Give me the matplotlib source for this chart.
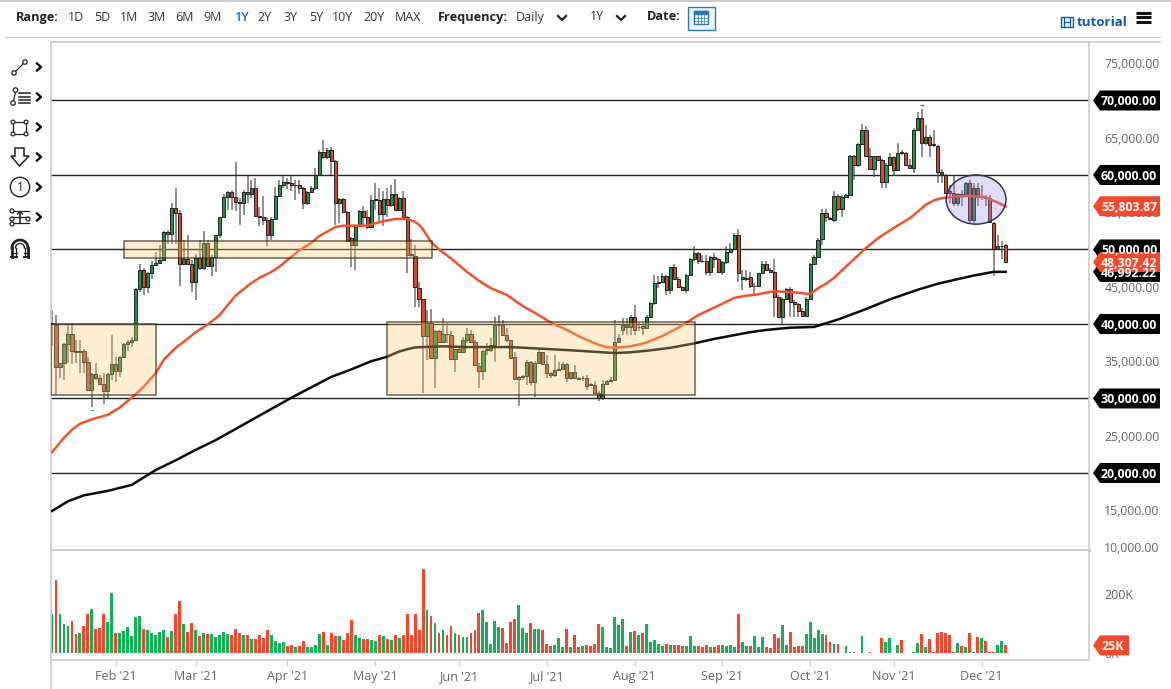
import numpy as np
import pandas as pd
import matplotlib
matplotlib.use("Agg")
import matplotlib.pyplot as plt
from matplotlib.patches import Rectangle, Ellipse, Polygon, Circle
from matplotlib.transforms import blended_transform_factory

plt.rcParams['font.family'] = ['Open Sans', 'DejaVu Sans']

# 1) Data, prices in thousands of USD, volume in thousands
first_day = "2021-01-08"

opens_k = [40.0,39.9,34.2,34.7,37.3,38.7,36.4,36.2,36.4,34.9,
           31.2,33.3,32.7,32.0,31.0,33.3,34.6,33.7,35.6,37.3,
           37.6,37.8,44.7,47.3,45.0,46.9,47.9,48.2,48.6,52.4,
           52.1,55.6,54.9,48.0,48.7,48.1,45.7,48.9,47.5,50.9,
           47.8,49.0,51.9,54.3,57.0,57.7,57.0,56.4,56.3,57.7,
           57.5,58.3,54.5,54.4,53.9,52.0,54.1,57.2,58.7,59.0,
           58.9,58.7,58.7,58.2,56.2,57.7,58.3,60.0,63.1,62.4,
           63.4,61.9,56.2,56.8,55.0,51.6,50.6,53.2,55.1,54.4,
           53.0,56.7,56.7,54.8,56.8,56.0,57.5,55.3,56.9,54.4,
           49.4,49.1,44.8,43.3,38.4,40.1,35.4,39.0,37.6,38.7,
           38.5,35.3,36.6,36.3,37.8,38.7,37.6,34.4,33.7,36.5,
           36.5,37.2,39.8,39.9,38.5,37.8,35.5,32.6,32.9,33.0,
           34.9,32.2,34.7,36.2,34.6,33.4,33.1,33.8,34.0,34.6,
           32.8,33.5,32.8,32.7,32.8,31.9,31.8,30.8,30.0,31.9,
           32.3,32.5,37.6,39.2,39.9,39.6,40.9,39.6,39.7,39.4,
           40.9,42.8,45.5,45.6,46.4,44.5,47.6,46.1,44.9,44.6,
           46.6,48.7,49.5,48.5,48.5,47.0,49.0,48.7,47.0,48.3,
           49.6,50.1,52.0,46.1,46.1,46.3,45.1,45.1,46.8,48.0,
           47.2,47.0,43.6,40.9,43.4,44.7,43.0,42.7,41.8,41.1,
           43.4,48.1,49.0,51.4,54.9,54.2,54.0,57.2,55.4,57.0,
           57.3,62.5,61.3,64.1,66.0,62.6,60.8,62.5,62.0,59.0,
           61.4,62.4,60.7,63.1,62.9,61.3,60.9,66.1,67.7,64.3,
           65.1,64.2,63.9,60.4,60.0,57.8,57.6,56.3,57.5,57.3,
           58.9,54.0,58.2,57.0,57.0,56.9,53.6,50.0,50.5,50.6]

closes_k = [40.1,34.2,34.7,37.3,38.7,36.4,36.2,36.4,34.9,31.2,
            33.3,32.7,32.0,31.0,33.3,34.6,33.7,35.6,37.3,37.6,
            37.8,44.7,47.3,45.0,46.9,47.9,48.2,48.6,52.4,52.1,
            55.6,54.9,48.0,48.7,48.1,45.7,48.9,47.5,50.9,47.8,
            49.0,51.9,54.3,57.0,57.7,57.0,56.4,56.3,57.7,57.4,
            58.3,54.5,54.3,53.9,52.0,54.1,57.2,58.7,59.0,58.9,
            58.7,58.7,58.2,56.2,57.7,58.3,60.0,63.1,62.4,63.4,
            61.9,56.2,56.8,55.0,51.1,50.6,53.2,55.1,54.4,53.0,
            56.7,56.8,54.8,56.8,56.0,57.5,55.3,56.9,54.4,49.3,
            49.2,44.9,43.3,38.4,40.1,35.4,39.0,37.6,38.7,38.6,
            35.3,36.6,36.3,37.8,38.7,37.6,34.5,33.7,36.4,36.6,
            37.2,39.8,39.9,38.5,37.8,35.4,32.6,32.9,33.0,34.9,
            32.2,34.7,36.2,34.6,33.4,33.1,33.8,34.0,34.6,32.8,
            33.5,32.8,32.6,32.8,31.7,31.8,30.8,30.0,31.9,32.3,
            32.5,37.6,38.1,39.9,39.6,40.9,39.2,39.6,39.4,40.9,
            42.8,45.5,45.6,46.4,44.5,47.6,46.1,44.9,44.6,46.6,
            48.7,49.5,48.5,48.4,47.0,49.0,48.7,47.0,48.3,49.6,
            50.1,52.0,46.9,46.3,46.2,45.1,45.1,46.8,48.0,47.2,
            47.0,43.6,40.9,43.4,44.7,43.0,42.7,41.8,41.1,43.4,
            48.1,49.0,51.3,54.9,54.3,54.1,57.2,55.4,57.1,57.3,
            62.5,61.3,64.1,66.0,62.6,60.8,62.5,62.0,59.0,61.4,
            62.4,60.7,63.0,63.0,61.3,60.9,66.1,67.7,64.3,65.1,
            64.0,64.0,60.4,60.1,57.6,57.6,56.3,57.5,57.3,58.9,
            54.0,58.2,57.0,57.0,56.9,53.7,50.0,50.5,50.5,48.3]

highs_k = [41.9,41.2,34.7,37.4,39.9,40.1,37.8,37.8,36.7,35.6,
           33.4,34.7,33.1,33.4,33.4,38.5,35.6,35.7,37.4,37.8,
           38.3,44.8,48.1,47.5,47.0,48.4,49.7,50.6,52.5,52.6,
           56.2,58.2,55.3,51.3,51.9,48.6,49.4,51.3,52.5,51.3,
           49.2,52.0,54.4,57.5,57.8,58.0,61.8,56.9,58.0,59.8,
           59.3,59.6,55.7,57.2,54.3,54.3,58.4,59.3,59.8,59.6,
           60.0,59.3,59.3,58.4,57.8,58.5,60.9,63.4,64.7,63.6,
           63.8,62.0,56.9,56.9,55.1,51.7,53.3,55.3,55.8,55.3,
           57.3,58.9,58.2,57.8,58.2,58.7,59.4,57.0,57.9,54.5,
           51.4,50.6,45.7,43.4,41.9,42.0,39.2,39.2,40.8,40.1,
           39.1,36.7,37.0,38.3,39.4,39.2,37.8,34.7,36.5,37.4,
           38.1,41.0,41.2,40.5,39.4,37.9,36.3,33.0,33.1,35.2,
           35.0,35.0,36.6,36.3,35.8,33.6,35.8,34.9,34.9,34.7,
           33.6,34.5,32.9,33.0,33.2,32.1,32.3,31.0,32.5,32.5,
           32.9,40.5,38.7,40.8,40.8,41.2,42.6,40.1,40.1,41.2,
           43.0,46.6,46.4,46.8,46.6,47.7,48.1,46.3,45.1,46.7,
           48.8,50.4,49.7,49.3,49.3,49.1,49.5,48.8,48.4,50.4,
           50.9,52.2,52.8,47.3,47.3,47.0,45.5,46.9,48.4,48.4,
           47.5,48.7,43.9,43.6,44.8,45.0,43.2,42.8,42.1,43.6,
           48.2,49.3,51.5,55.5,55.5,54.4,57.8,57.4,57.3,57.5,
           62.7,62.7,64.3,66.9,66.6,63.6,62.6,62.6,62.1,61.6,
           62.9,62.5,64.3,63.4,63.1,62.2,66.3,68.4,68.8,66.7,
           65.4,66.1,64.0,60.8,60.1,58.7,60.0,57.6,58.0,59.1,
           59.3,58.9,58.9,58.7,57.3,57.3,53.7,52.0,51.1,50.8]

lows_k = [37.0,30.5,32.7,32.5,34.7,34.6,34.7,33.4,33.4,31.1,
          28.9,32.5,31.9,29.3,30.0,32.5,32.2,32.9,35.4,36.4,
          36.9,37.8,44.3,43.9,44.1,46.1,47.8,48.1,48.5,50.8,
          50.8,50.8,45.1,47.9,48.0,44.3,43.2,47.2,47.3,47.7,
          46.4,47.0,51.5,54.2,55.3,55.3,55.1,53.3,54.6,56.2,
          56.9,54.5,53.1,53.3,50.5,51.3,54.0,57.1,58.3,58.1,
          57.8,56.6,57.5,55.5,56.0,57.6,58.0,59.9,62.2,62.2,
          60.0,53.3,53.5,54.9,51.1,47.7,47.2,53.1,53.1,52.8,
          52.9,55.3,53.5,53.1,54.4,55.7,55.1,55.1,54.0,46.8,
          49.0,42.3,42.3,30.7,35.2,35.3,31.4,37.4,37.4,37.4,
          35.2,33.6,36.1,36.1,37.4,37.5,34.4,31.4,32.5,35.8,
          36.3,34.9,37.2,38.4,37.6,35.3,32.5,29.0,32.5,31.8,
          31.7,30.2,34.6,34.5,32.8,32.8,32.9,33.7,33.9,32.2,
          32.5,32.7,32.5,32.3,31.1,31.7,30.7,29.7,29.8,31.8,
          32.2,32.4,37.4,38.5,38.5,38.5,38.5,39.0,38.5,39.3,
          40.8,42.5,44.8,45.5,43.9,44.0,46.0,44.8,44.5,44.1,
          46.5,48.4,48.1,48.2,46.6,46.4,47.5,46.8,46.6,48.1,
          49.5,50.0,45.7,44.6,45.8,44.8,43.8,45.0,46.7,47.2,
          46.9,41.0,40.8,39.9,43.2,41.0,41.0,41.0,41.0,41.1,
          43.4,48.0,49.0,50.6,53.7,53.9,53.7,55.2,54.4,56.9,
          57.2,59.3,61.1,64.0,62.5,60.7,59.7,61.9,58.3,58.3,
          61.3,59.8,60.6,62.7,61.2,60.8,60.2,66.0,62.4,64.0,
          62.4,63.8,58.9,58.9,57.5,56.2,55.8,55.8,55.8,57.1,
          53.5,53.5,55.8,56.6,55.8,53.5,46.4,50.0,48.7,48.2]

volumes_k = [132,248,132,98,91,108,64,66,91,132,
             148,81,84,131,103,202,68,68,73,86,
             57,120,125,82,77,67,59,70,77,55,
             74,132,176,98,70,102,77,57,66,62,
             64,52,60,69,64,61,80,68,61,60,
             47,45,60,49,77,59,40,32,35,23,
             25,19,23,40,20,18,26,64,69,26,
             66,57,57,44,68,112,60,50,45,47,
             43,41,60,57,48,42,60,51,60,132,
             59,131,77,284,145,125,100,66,77,60,
             91,66,60,52,52,66,77,136,145,105,
             30,108,89,84,32,103,114,161,85,66,
             100,82,82,76,28,24,25,50,18,82,
             18,59,18,23,25,22,30,98,89,20,
             16,120,93,115,23,70,74,60,68,98,
             37,43,30,23,30,26,25,26,24,24,
             58,23,23,20,25,20,18,26,26,24,
             25,18,132,35,23,23,58,19,53,19,
             16,65,51,94,27,70,18,23,22,62,
             103,49,76,64,60,37,28,30,0,24,
             1,1,0,58,0,1,0,0,50,37,
             50,0,25,43,0,0,1,32,64,19,
             48,1,67,69,68,60,1,32,23,19,
             66,1,53,51,40,1,1,26,40,25]

# moving averages
ma50_idx = [0,3,5,7,10,14,17,20,23,26,28,31,33,36,39,42,46,50,52,55,57,60,62,65,67,70,71,73,76,79,83,86,89,91,92,93,95,97,100,
            104,107,110,114,118,121,125,129,133,137,139,141,145,149,153,157,162,166,171,174,176,181,184,187,190,192,194,196,
            200,202,204,207,211,215,219,221,223,226,230,234,237,239]
ma50_vals = [22.8,24.7,25.8,26.6,27.2,27.8,28.8,30.1,31.6,33.4,35.2,36.8,37.6,38.9,39.9,41.2,43.8,45.5,46.2,47.0,47.7,49.0,49.9,50.9,51.8,52.7,53.0,53.2,53.2,53.2,53.8,54.1,54.1,53.7,53.3,52.7,51.0,50.0,48.8,
             47.0,45.8,44.8,43.9,42.4,41.5,40.2,39.2,38.1,37.2,36.9,36.8,37.0,37.5,38.4,39.5,41.2,42.2,43.5,43.8,43.9,44.4,44.3,44.2,44.0,44.8,45.4,46.2,
             48.2,49.2,50.2,51.5,52.9,54.2,56.0,56.6,56.9,57.1,57.2,57.0,56.3,55.8]
ma200_idx = [0,4,8,14,20,26,31,36,41,45,50,55,60,65,70,75,80,84,87,89,91,93,98,104,110,115,122,129,135,141,145,149,155,161,166,171,175,179,185,191,197,204,210,217,222,226,231,236,239]
ma200_vals = [14.9,16.2,17.0,17.6,18.4,20.4,21.7,23.1,24.4,25.6,27.1,28.6,30.1,31.5,32.9,33.9,35.0,35.6,36.3,36.6,36.85,36.9,37.0,36.9,36.9,36.9,36.7,36.5,36.3,36.1,36.2,36.4,36.8,37.4,38.0,38.5,38.9,39.2,39.5,39.6,40.6,42.0,43.3,44.6,45.4,45.9,46.5,47.0,47.0]

# drawn objects on the chart: level lines, zones (bar from, bar to, price low, price high), circle
levels_k = [70, 60, 50, 40, 30, 20]
zones = [(-0.25, 26.0, 30.4, 40.0), (18.0, 95.2, 48.9, 51.1), (84.0, 161.2, 30.5, 40.3)]
circle_center = (231.6, 56.7)
circle_size = (15.0, 6.6)

grey_ticks_k = [75, 65, 55, 45, 35, 25, 15, 10]
last_ma200, last_ma50, last_close = 46992.22, 55803.87, 48307.42
volume_ticks = [0, 200]

range_labels = ["1D", "5D", "1M", "3M", "6M", "9M", "1Y", "2Y", "3Y", "5Y", "10Y", "20Y", "MAX"]
range_x = [76, 102, 129, 157, 185, 213, 241, 265, 290, 316, 343, 374, 408]

opens = np.array(opens_k) * 1000
closes = np.array(closes_k) * 1000
highs = np.array(highs_k) * 1000
lows = np.array(lows_k) * 1000
x = np.arange(len(opens))
dates = pd.bdate_range(first_day, periods=len(opens))

GREEN = "#1f9442"
RED = "#d5482a"
VGREEN = "#0fb257"
VRED = "#f5452b"
TAG_RED = "#f4472b"
GREY = "#666666"
BORDER = "#cccccc"

# 2) Figure and axes (pixel layout of the page)
W, H = 1171, 689
fig = plt.figure(figsize=(W / 100, H / 100), dpi=100)
ax = fig.add_axes([51 / W, 1 - 550 / H, 1038 / W, 508 / H])
axv = fig.add_axes([51 / W, 1 - 660 / H, 1038 / W, 109 / H])
ui = fig.add_axes([0, 0, 1, 1], zorder=5)
ui.set_xlim(0, W)
ui.set_ylim(H, 0)
ui.axis("off")
ui.patch.set_alpha(0)

# 3) Price panel
ax.set_xlim(-0.25, 259.9)
ax.set_ylim(9660, 77850)
for lv in levels_k:
    ax.axhline(lv * 1000, color="#222222", lw=1.0, zorder=1)

up = closes >= opens
ax.vlines(x, lows, highs, color="#444444", alpha=0.7, lw=1.2, zorder=2)
body_low = np.minimum(opens, closes)
body_h = np.abs(closes - opens)
ax.bar(x[up], body_h[up], bottom=body_low[up], width=0.8, color=GREEN, edgecolor="#222222", lw=0.7, zorder=3)
ax.bar(x[~up], body_h[~up], bottom=body_low[~up], width=0.8, color=RED, edgecolor="#222222", lw=0.7, zorder=3)

ax.plot(ma50_idx, np.array(ma50_vals) * 1000, color="#f4502b", lw=1.8, zorder=4)
ax.plot(ma200_idx, np.array(ma200_vals) * 1000, color="#0a0a0a", lw=1.8, zorder=4)

for x0, x1, p0, p1 in zones:
    ax.add_patch(Rectangle((x0, p0 * 1000), x1 - x0, (p1 - p0) * 1000,
                           facecolor=(0.98, 0.78, 0.45, 0.32), edgecolor=(0.2, 0.15, 0.05, 0.65), lw=1.2, zorder=5))
ax.add_patch(Ellipse((circle_center[0], circle_center[1] * 1000), circle_size[0], circle_size[1] * 1000,
                     facecolor=(0.62, 0.55, 0.92, 0.30), edgecolor="#33335a", lw=1.1, zorder=5))

# tiny flags on the chart
ax.plot([218], [69400], marker="_", ms=3, color=RED, zorder=6)
ax.plot([10], [28500], marker="_", ms=3, color="#3ecf7a", zorder=6)

ax.set_xticks([])
ax.yaxis.tick_right()
ax.set_yticks([v * 1000 for v in grey_ticks_k])
ax.set_yticklabels([f"{v * 1000:,.2f}" for v in grey_ticks_k], fontsize=8.8, color=GREY)
ax.tick_params(axis="y", length=0, pad=11)
for s in ["left", "right", "top"]:
    ax.spines[s].set_color(BORDER)
    ax.spines[s].set_linewidth(1.2)
ax.spines["bottom"].set_color(BORDER)
ax.spines["bottom"].set_linewidth(2)

# price tags on the right, y from the price scale, x from page pixels
tag_tr = blended_transform_factory(ui.transData, ax.transData)
def price_tag(value, color):
    half = 10 / 7.45 * 1000
    pts = [(1093, value), (1100, value + half), (1160, value + half), (1160, value - half), (1100, value - half)]
    ax.add_patch(Polygon(pts, closed=True, transform=tag_tr, facecolor=color, edgecolor="none", clip_on=False, zorder=20))
    ax.text(1129, value, f"{value:,.2f}", transform=tag_tr, color="white", fontsize=8.8, fontweight="bold",
            ha="center", va="center_baseline", clip_on=False, zorder=21)

for lv in levels_k:
    price_tag(lv * 1000, "#000000")
price_tag(last_ma200, "#000000")
price_tag(last_ma50, TAG_RED)
price_tag(last_close, TAG_RED)

# 4) Volume panel
axv.set_xlim(-0.25, 259.9)
axv.set_ylim(-25, 346.5)
vols = np.array(volumes_k)
axv.bar(x, vols, width=0.72, color=np.where(up, VGREEN, VRED), edgecolor="none")

axv.yaxis.tick_right()
axv.set_yticks(volume_ticks)
axv.set_yticklabels([f"{v}K" for v in volume_ticks], fontsize=9, color=GREY)
axv.tick_params(axis="y", length=0, pad=11)

month_start = [i for i in range(1, len(dates)) if dates[i].month != dates[i - 1].month]
axv.set_xticks(month_start)
axv.set_xticklabels([dates[i].strftime("%b '%y") for i in month_start], fontsize=9, color=GREY)
axv.tick_params(axis="x", length=4, color=BORDER, pad=3.5)
axv.spines["top"].set_visible(False)
for s in ["left", "right", "bottom"]:
    axv.spines[s].set_color(BORDER)
    axv.spines[s].set_linewidth(1.2)

vol_tr = blended_transform_factory(ui.transData, axv.transData)
half_v = 10 / 0.2935
last_v = volumes_k[-1]
axv.add_patch(Polygon([(1093, last_v), (1100, last_v + half_v), (1129, last_v + half_v), (1129, last_v - half_v), (1100, last_v - half_v)],
                      closed=True, transform=vol_tr, facecolor=TAG_RED, edgecolor="none", clip_on=False, zorder=20))
axv.text(1113, last_v, f"{last_v}K", transform=vol_tr, color="white", fontsize=9, fontweight="bold",
         ha="center", va="center_baseline", clip_on=False, zorder=21)

# 5) Page furniture: toolbar and drawing tools
ui.plot([0, W], [0.5, 0.5], color=BORDER, lw=1.5)
ui.plot([5, 1160], [36.5, 36.5], color=BORDER, lw=1)
ui.plot([51, 1160], [42, 42], color=BORDER, lw=1.2)
ui.plot([51, 51], [660, 689], color=BORDER, lw=1.2)

ui.text(16, 17, "Range:", fontsize=9.2, fontweight="bold", color="#222222", va="center")
for lab, px in zip(range_labels, range_x):
    sel = lab == "1Y"
    ui.text(px, 17.5, lab, fontsize=9, ha="center", va="center", color="#1a6cb5" if sel else "#333333",
            fontweight="semibold" if sel else "normal")
ui.text(438, 17, "Frequency:", fontsize=9.2, fontweight="bold", color="#222222", va="center")
ui.text(516, 17, "Daily", fontsize=9, color="#333333", va="center")
ui.text(590, 17, "1Y", fontsize=9, color="#333333", va="center")
ui.text(647, 17, "Date:", fontsize=9.2, fontweight="bold", color="#222222", va="center")
for cx in [562, 621]:
    ui.plot([cx - 4, cx, cx + 4], [16, 20, 16], color="#222222", lw=1.6)

# calendar button
ui.add_patch(Rectangle((687.5, 6.5), 27, 23, facecolor="#eef5fb", edgecolor="#2a78b8", lw=1))
ui.add_patch(Rectangle((694, 11), 14, 13, facecolor="white", edgecolor="#2a78b8", lw=1))
ui.add_patch(Rectangle((694, 11), 14, 3, facecolor="#2a78b8", edgecolor="#2a78b8", lw=1))
for gx in [698, 701, 704]:
    ui.plot([gx, gx], [15, 24], color="#2a78b8", lw=0.5)
for gy in [18, 21]:
    ui.plot([694, 708], [gy, gy], color="#2a78b8", lw=0.5)

# tutorial link
ui.add_patch(Rectangle((1060.5, 17), 12, 10, facecolor="#e5f0f9", edgecolor="#0d5ea8", lw=1))
for gx in [1063.5, 1069.5]:
    ui.plot([gx, gx], [17, 27], color="#0d5ea8", lw=0.8)
ui.plot([1063.5, 1069.5], [22, 22], color="#0d5ea8", lw=0.8)
ui.text(1077, 22.5, "tutorial", fontsize=9.6, fontweight="bold", color="#0d5ea8", va="center")
for hy in [12.5, 17, 21.5]:
    ui.plot([1136, 1151], [hy, hy], color="#111111", lw=2.2, solid_capstyle="butt")

# drawing tool icons
ICON = "#222222"
def dot(cx, cy, r=2.2):
    ui.add_patch(Circle((cx, cy), r, facecolor="white", edgecolor=ICON, lw=0.9, zorder=3))

ui.plot([14, 25], [73, 62], color=ICON, lw=0.9)
dot(14, 73)
dot(25, 62)

ui.plot([13, 16], [103, 90], color=ICON, lw=0.9)
dot(13, 103)
dot(15.5, 90)
for iy in [93, 96.5, 100, 103]:
    ui.plot([19, 30], [iy, iy], color=ICON, lw=1.1)

ui.add_patch(Rectangle((13, 122), 13, 12, facecolor="none", edgecolor=ICON, lw=0.9))
for cx, cy in [(13, 122), (26, 122), (13, 134), (26, 134)]:
    dot(cx, cy, 1.9)

ui.add_patch(Polygon([(15, 148), (24, 148), (24, 156), (29, 156), (19.5, 166), (11, 156), (15, 156)],
                     closed=True, facecolor="white", edgecolor=ICON, lw=1.1))

ui.add_patch(Circle((20, 187), 9.7, facecolor="white", edgecolor=ICON, lw=1))
ui.text(20, 187.5, "1", fontsize=8.5, ha="center", va="center", color=ICON)

for iy in [211, 217, 223]:
    ui.plot([11, 29], [iy, iy], color=ICON, lw=0.9)
dot(12, 211, 2)
dot(12, 219, 2)
dot(12, 224, 2)
dot(28, 219, 2)
ui.plot([20, 20], [212, 223], color=ICON, lw=1.2)
ui.plot([17.5, 20, 22.5], [214, 211.5, 214], color=ICON, lw=1)

# magnet
th = np.linspace(0, np.pi, 30)
ui.plot(20 + 8 * np.cos(th), 248 - 8 * np.sin(th), color=ICON, lw=2)
ui.plot(20 + 4.5 * np.cos(th), 248 - 4.5 * np.sin(th), color=ICON, lw=1)
for ex in [12, 28]:
    ui.plot([ex, ex], [248, 257], color=ICON, lw=2)
for ex in [15.5, 24.5]:
    ui.plot([ex, ex], [248, 257], color=ICON, lw=1)
for a, b in [(11, 16.5), (23.5, 29)]:
    ui.plot([a, b], [256.5, 256.5], color=ICON, lw=1.4)
    ui.plot([a, b], [253, 253], color=ICON, lw=0.8)

for cy in [67, 97, 127, 157, 187, 217]:
    ui.plot([37, 41, 37], [cy - 3.5, cy, cy + 3.5], color="#111111", lw=1.7)

fig.savefig("out.png", dpi=100)
